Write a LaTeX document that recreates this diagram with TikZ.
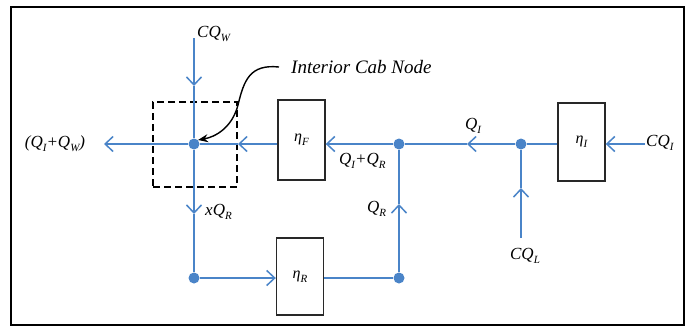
\documentclass[tikz,border=0pt]{standalone}
\usepackage{fontspec}
\setmainfont{Liberation Serif}
\usetikzlibrary{arrows.meta}
\definecolor{flow}{RGB}{74,132,200}
\definecolor{boxc}{RGB}{40,40,40}
\newcommand\sbs[1]{\raisebox{-0.55ex}{\fontsize{11}{11}\selectfont #1}}
\begin{document}
\begin{tikzpicture}[x=1pt,y=-1pt,
  flowline/.style={draw=flow,line width=1.6pt},
  flowarrow/.style={flowline,-{Straight Barb[length=8pt,width=15pt,line width=1.5pt]}},
  blockbox/.style={draw=boxc,line width=1.4pt,fill=white,minimum width=47pt,inner sep=0pt,font=\fontsize{16}{18}\selectfont\itshape},
  junction/.style={circle,fill=flow,inner sep=0pt,minimum size=11pt},
  lbl/.style={font=\fontsize{17}{20}\selectfont\itshape,inner sep=0pt}]
\useasboundingbox (0,0) rectangle (691,327);
\draw[black,line width=1.8pt] (11,7) rectangle (684,325);

% blocks
\node[blockbox,minimum height=80pt] (etaF) at (301.5,140) {η\sbs{F}};
\node[blockbox,minimum height=77pt] (etaR) at (300,276.5) {η\sbs{R}};
\node[blockbox,minimum height=78pt] (etaI) at (581.5,142) {η\sbs{I}};

% dashed box
\node[draw=black,line width=2pt,dash pattern=on 7pt off 4pt,minimum width=84pt,minimum height=85pt,inner sep=0pt] (cab) at (195,144.5) {};

% junctions
\node[junction] (j1) at (194,144) {};
\node[junction] (j2) at (194,278) {};
\node[junction] (j3) at (399,278) {};
\node[junction] (j4) at (399,144) {};
\node[junction] (j5) at (521,144) {};

% coordinates
\coordinate (wtop) at (194,38);
\coordinate (wtip) at (194,86);
\coordinate (ltip) at (104,144);
\coordinate (xtip) at (194,214);
\coordinate (cabtip) at (238,144);
\coordinate (rtip) at (399,204);
\coordinate (itip) at (467,144);
\coordinate (lbot) at (521,238);
\coordinate (ltipL) at (521,188);
\coordinate (cqi) at (645,144);

% flows
\draw[flowarrow] (wtop) -- (wtip);
\draw[flowline] (wtip) -- (j1);
\draw[flowarrow] (j1) -- (ltip);
\draw[flowarrow] (j1) -- (xtip);
\draw[flowline] (xtip) -- (j2);
\draw[flowarrow] (j2) -- (j2 -| etaR.west);
\draw[flowline] (etaR.east |- j3) -- (j3);
\draw[flowarrow] (j3) -- (rtip);
\draw[flowline] (rtip) -- (j4);
\draw[flowarrow] (j4) -- (etaF.east |- j4);
\draw[flowarrow] (etaF.west |- j1) -- (cabtip);
\draw[flowline] (cabtip) -- (j1);
\draw[flowarrow] (j5) -- (itip);
\draw[flowline] (itip) -- (j4);
\draw[flowarrow] (lbot) -- (ltipL);
\draw[flowline] (ltipL) -- (j5);
\draw[flowline] (etaI.west |- j5) -- (j5);
\draw[flowarrow] (cqi) -- (etaI.east |- cqi);

% labels
\node[lbl] (lqw) at (55,144) {(Q\sbs{I}+Q\sbs{W})};
\node[lbl,anchor=west] (lcqw) at (197,34) {CQ\sbs{W}};
\node[lbl,anchor=west] (lxqr) at (205,212) {xQ\sbs{R}};
\node[lbl,anchor=west] (lqiqr) at (339,161) {Q\sbs{I}+Q\sbs{R}};
\node[lbl,anchor=west] (lqr) at (367,209) {Q\sbs{R}};
\node[lbl,anchor=west] (lqi) at (465,126) {Q\sbs{I}};
\node[lbl] (lcql) at (525,256) {CQ\sbs{L}};
\node[lbl,anchor=west] (lcqi) at (646,143) {CQ\sbs{I}};
\node[font=\fontsize{19}{22}\selectfont\itshape,anchor=west,inner sep=0pt] (cabtxt) at (291,67) {Interior Cab Node};

% pointer
\draw[black,line width=1.4pt,-{Stealth[length=10pt,width=8pt]}] (cabtxt.west) ++(-12,0) coordinate (ps)
  .. controls (250,64) and (244,80) .. (238,105)
  .. controls (232,128) and (215,137) .. (j1.north east);
\end{tikzpicture}
\end{document}
